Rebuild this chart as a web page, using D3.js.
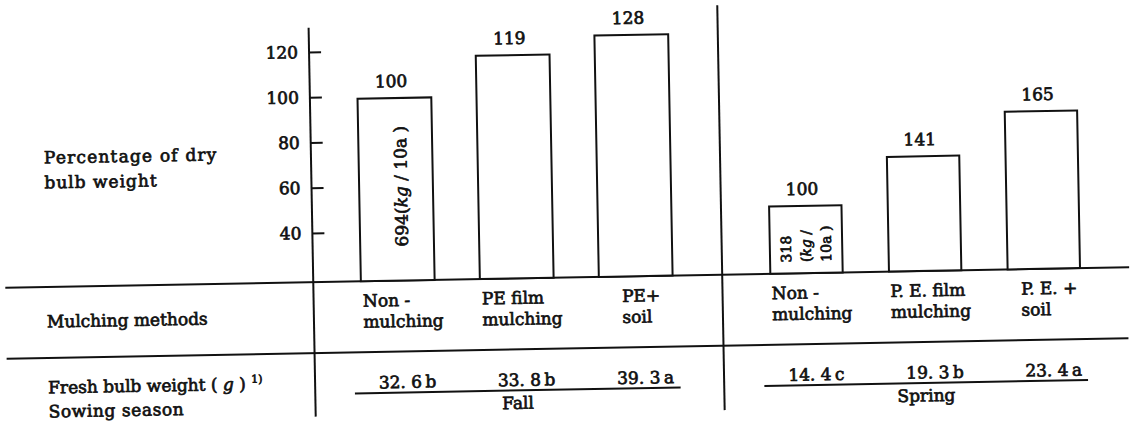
<!DOCTYPE html>
<html>
<head>
<meta charset="utf-8">
<script src="https://cdn.jsdelivr.net/npm/d3@7"></script>
<style>
    body { margin: 0; background: #fff; }
    svg text { font-family: "DejaVu Serif", "Liberation Serif", serif; font-size: 17px; fill: #111; stroke: #111; stroke-width: 0.7px; }
    .rule { stroke: #111; stroke-width: 2; fill: none; }
    .bar { fill: #fff; stroke: #111; stroke-width: 2; }
    .axis line { stroke: #111; stroke-width: 2; }
</style>
</head>
<body>
<svg id="chart" width="1133" height="423"></svg>
<script>
var methodsFall = [["Non -", "mulching"], ["PE  film", "mulching"], ["PE+", "soil"]];
var methodsSpring = [["Non -", "mulching"], ["P. E.  film", "mulching"], ["P. E.  +", "soil"]];
var pctFall = [100, 119, 128];
var pctSpring = [100, 141, 165];
// bar tops as they stand against the left axis in the print
var heightFall = [99, 117, 125];
var heightSpring = [48, 69, 88];
var freshFall = [32.6, 33.8, 39.3];
var freshSpring = [14.4, 19.3, 23.4];
var lettersFall = ["b", "b", "a"];
var lettersSpring = ["c", "b", "a"];
var yTicks = [40, 60, 80, 100, 120];
var seasons = ["Fall", "Spring"];
var baseKg = [694, 318];

var baseY = 277.5
    , rowY = 348.5
    , ruleY = 389.5
    , axisX = 312
    , midX = 721
    ;

var svg = d3.select("#chart");
// the scan is tilted by about a degree
var g = svg.append("g").attr("transform", "rotate(-1.05,566,211)");

var y = d3.scaleLinear().domain([18.3, 120]).range([baseY, 47.4]);

var xFall = d3.scaleBand().domain(d3.range(3)).range([337, 694])
    .paddingInner(0.38).paddingOuter(0.19);
var xSpring = d3.scaleBand().domain(d3.range(3)).range([746, 1102])
    .paddingInner(0.39).paddingOuter(0.195);

var groups = [
    {season: seasons[0], x: xFall, pct: pctFall, h: heightFall, names: methodsFall, fresh: freshFall, letters: lettersFall, kg: baseKg[0]},
    {season: seasons[1], x: xSpring, pct: pctSpring, h: heightSpring, names: methodsSpring, fresh: freshSpring, letters: lettersSpring, kg: baseKg[1]}
];

// table rules
g.append("line").attr("class", "rule").attr("x1", 4).attr("x2", 1128).attr("y1", baseY).attr("y2", baseY);
g.append("line").attr("class", "rule").attr("x1", 4).attr("x2", 1126).attr("y1", rowY).attr("y2", rowY);
g.append("line").attr("class", "rule").attr("x1", axisX).attr("x2", axisX).attr("y1", 23).attr("y2", 412);
g.append("line").attr("class", "rule").attr("x1", midX).attr("x2", midX).attr("y1", 8).attr("y2", 413);

// y axis, ticks pointing right, labels on the left
var yAxis = d3.axisLeft(y)
    .tickValues(yTicks)
    .tickSizeInner(-12)
    .tickSizeOuter(0)
    .tickPadding(11);

var gY = g.append("g")
    .attr("class", "axis")
    .attr("transform", "translate(" + axisX + ",0)")
    .call(yAxis);
gY.attr("font-family", null).attr("font-size", null);
gY.select(".domain").remove();

// left captions
g.append("text").attr("x", 45).attr("y", 154).style("letter-spacing", "1.2px").text("Percentage of dry");
g.append("text").attr("x", 45).attr("y", 179).style("letter-spacing", "1px").text("bulb weight");
g.append("text").attr("x", 45).attr("y", 318).text("Mulching methods");

var fresh = g.append("text").attr("x", 45).attr("y", 384);
fresh.append("tspan").text("Fresh bulb weight ( ");
fresh.append("tspan").style("font-style", "italic").text("g");
fresh.append("tspan").text(" ) ");
fresh.append("tspan").attr("dy", -7).style("font-size", "11px").text("1)");

g.append("text").attr("x", 45).attr("y", 408).style("letter-spacing", "0.6px").text("Sowing season");

groups.forEach(function(grp, gi) {
    var x = grp.x, bw = x.bandwidth();
    var gg = g.append("g");

    gg.selectAll("rect.bar")
        .data(grp.h)
        .enter().append("rect")
        .attr("class", "bar")
        .attr("x", function(d, i) { return x(i); })
        .attr("y", function(d) { return y(d); })
        .attr("width", bw)
        .attr("height", function(d) { return baseY - y(d); });

    gg.selectAll("text.pct")
        .data(grp.pct)
        .enter().append("text")
        .attr("class", "pct")
        .attr("text-anchor", "middle")
        .attr("x", function(d, i) { return x(i) + bw / 2 - 3; })
        .attr("y", function(d, i) { return y(grp.h[i]) - 11; })
        .text(function(d) { return d; });

    // method names, left aligned block centred under each bar
    grp.names.forEach(function(lines, i) {
        var t = gg.append("text").attr("y", 303);
        t.selectAll("tspan")
            .data(lines)
            .enter().append("tspan")
            .attr("dy", function(d, k) { return k ? 21 : 0; })
            .text(function(d) { return d; });
        var wmax = 0;
        t.selectAll("tspan").each(function() { wmax = Math.max(wmax, this.getComputedTextLength()); });
        var left = x(i) + bw / 2 + 5 - wmax / 2;
        t.selectAll("tspan").attr("x", left);
    });

    gg.selectAll("text.fresh")
        .data(grp.fresh)
        .enter().append("text")
        .attr("class", "fresh")
        .attr("text-anchor", "middle")
        .attr("x", function(d, i) { return x(i) + bw / 2 + 8; })
        .attr("y", 385)
        .text(function(d, i) { return d.toFixed(1).replace(".", ". ") + "\u2009" + grp.letters[i]; });

    var x0 = x(0) - 8, x1 = x(2) + bw + 6;
    gg.append("line").attr("class", "rule")
        .attr("x1", x0).attr("x2", x1).attr("y1", ruleY).attr("y2", ruleY);
    gg.append("text")
        .attr("text-anchor", "middle")
        .attr("x", (x0 + x1) / 2)
        .attr("y", 408)
        .text(grp.season);

    // base amount written inside the first bar
    var cx = x(0) + bw / 2;
    if (gi === 0) {
        var t = gg.append("text")
            .attr("text-anchor", "middle")
            .attr("dy", "0.35em")
            .attr("transform", "translate(" + (cx + 5) + "," + ((y(grp.h[0]) + baseY) / 2 - 3) + ") rotate(-90)");
        t.append("tspan").text(grp.kg + "(");
        t.append("tspan").style("font-style", "italic").text("kg");
        t.append("tspan").text(" / 10a )");
    } else {
        var rows = [[String(grp.kg)], ["(", "kg", " /"], ["10a )"]];
        rows.forEach(function(parts, k) {
            var t = gg.append("text")
                .attr("dy", "0.35em")
                .style("font-size", "14px")
                .attr("transform", "translate(" + (cx - 20 + k * 20) + "," + (baseY - 11) + ") rotate(-90)");
            parts.forEach(function(p) {
                t.append("tspan").style("font-style", p === "kg" ? "italic" : null).text(p);
            });
        });
    }
});
</script>
</body>
</html>
